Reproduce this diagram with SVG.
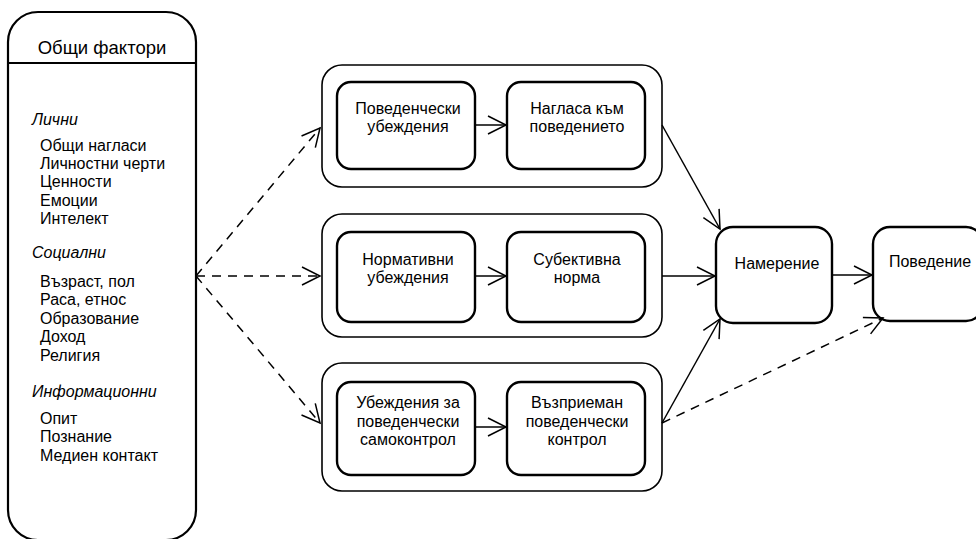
<svg xmlns="http://www.w3.org/2000/svg" width="976" height="539" viewBox="0 0 976 539">
<defs>
<style>
text{font-family:"Liberation Sans",Arial,sans-serif;font-size:16px;fill:#000}
.t{font-size:18.5px}
.i{font-style:italic}
.c{text-anchor:middle}
.big{fill:#fff;stroke:#000;stroke-width:2.2}
.outer{fill:#fff;stroke:#000;stroke-width:1.6}
.inner{fill:#fff;stroke:#000;stroke-width:2.4}
.ln{fill:none;stroke:#000;stroke-width:1.5}
.d{stroke-dasharray:9,7}
</style>
<marker id="ah" markerUnits="userSpaceOnUse" markerWidth="24" markerHeight="24" viewBox="-20 -12 24 24" refX="0" refY="0" orient="auto">
<path d="M-18,-9 L0,0 L-18,9" fill="none" stroke="#000" stroke-width="1.5"/>
</marker>
</defs>
<rect width="976" height="539" fill="#fff"/>
<g id="general">
<rect class="big" x="8" y="12" width="188" height="528" rx="30" ry="30"/>
<line x1="8" y1="63" x2="196" y2="63" stroke="#000" stroke-width="2.2"/>
<text class="t c" x="102" y="54">Общи фактори</text>
<text class="i" x="32" y="125">Лични</text>
<text x="40" y="151">Общи нагласи</text>
<text x="40" y="169">Личностни черти</text>
<text x="40" y="187">Ценности</text>
<text x="40" y="206">Емоции</text>
<text x="40" y="224">Интелект</text>
<text class="i" x="32" y="258">Социални</text>
<text x="40" y="287">Възраст, пол</text>
<text x="40" y="305">Раса, етнос</text>
<text x="40" y="324">Образование</text>
<text x="40" y="342">Доход</text>
<text x="40" y="361">Религия</text>
<text class="i" x="32" y="397">Информационни</text>
<text x="40" y="424">Опит</text>
<text x="40" y="442">Познание</text>
<text x="40" y="461">Медиен контакт</text>
</g>
<g id="group1">
<rect class="outer" x="322" y="65" width="340" height="122" rx="20" ry="20"/>
</g>
<g id="group2">
<rect class="outer" x="322" y="214" width="340" height="123" rx="20" ry="20"/>
</g>
<g id="group3">
<rect class="outer" x="322" y="363" width="340" height="128" rx="20" ry="20"/>
</g>
<g id="behavioral-beliefs">
<rect class="inner" x="337" y="82" width="138" height="87" rx="14" ry="14"/>
<text class="c" x="408" y="114">Поведенчески</text>
<text class="c" x="408" y="132">убеждения</text>
</g>
<g id="attitude">
<rect class="inner" x="507" y="82" width="138" height="87" rx="14" ry="14"/>
<text class="c" x="577" y="114">Нагласа към</text>
<text class="c" x="577" y="132">поведението</text>
</g>
<g id="normative-beliefs">
<rect class="inner" x="337" y="232" width="138" height="90" rx="14" ry="14"/>
<text class="c" x="408" y="265">Нормативни</text>
<text class="c" x="408" y="283">убеждения</text>
</g>
<g id="subjective-norm">
<rect class="inner" x="507" y="232" width="138" height="90" rx="14" ry="14"/>
<text class="c" x="577" y="265">Субективна</text>
<text class="c" x="577" y="283">норма</text>
</g>
<g id="control-beliefs">
<rect class="inner" x="337" y="382" width="138" height="93" rx="14" ry="14"/>
<text class="c" x="408" y="408">Убеждения за</text>
<text class="c" x="408" y="427">поведенчески</text>
<text class="c" x="408" y="445">самоконтрол</text>
</g>
<g id="perceived-control">
<rect class="inner" x="507" y="382" width="138" height="93" rx="14" ry="14"/>
<text class="c" x="577" y="408">Възприеман</text>
<text class="c" x="577" y="427">поведенчески</text>
<text class="c" x="577" y="445">контрол</text>
</g>
<g id="intention">
<rect class="inner" x="716" y="227" width="116" height="96" rx="17" ry="17"/>
<text class="c" x="777" y="269">Намерение</text>
</g>
<g id="behavior">
<rect class="inner" x="873" y="227" width="110" height="94" rx="17" ry="17"/>
<text class="c" x="930" y="267">Поведение</text>
</g>
<g id="connectors">
<line class="ln d" x1="196" y1="276" x2="320" y2="128" marker-end="url(#ah)"/>
<line class="ln d" x1="196" y1="276" x2="320" y2="276" marker-end="url(#ah)"/>
<line class="ln d" x1="196" y1="276" x2="320" y2="423" marker-end="url(#ah)"/>
<line class="ln" x1="475" y1="125" x2="506" y2="125" marker-end="url(#ah)"/>
<line class="ln" x1="475" y1="276" x2="506" y2="276" marker-end="url(#ah)"/>
<line class="ln" x1="475" y1="427" x2="506" y2="427" marker-end="url(#ah)"/>
<line class="ln" x1="662" y1="125" x2="720" y2="229" marker-end="url(#ah)"/>
<line class="ln" x1="662" y1="276" x2="715" y2="276" marker-end="url(#ah)"/>
<line class="ln" x1="662" y1="423" x2="720" y2="319" marker-end="url(#ah)"/>
<line class="ln" x1="832" y1="275" x2="872" y2="275" marker-end="url(#ah)"/>
<line class="ln d" x1="662" y1="423" x2="883" y2="318" marker-end="url(#ah)"/>
</g>
</svg>
